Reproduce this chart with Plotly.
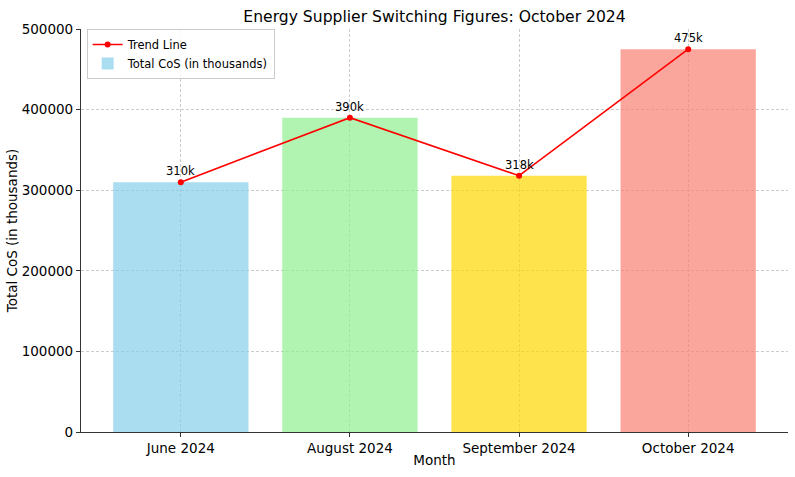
import plotly.graph_objects as go

months = ["June 2024", "August 2024", "September 2024", "October 2024"]
values = [310000, 390000, 318000, 475000]
labels = ["310k", "390k", "318k", "475k"]
bar_colors = ["rgba(135,206,235,0.7)", "rgba(144,238,144,0.7)",
              "rgba(255,215,0,0.7)", "rgba(250,128,114,0.7)"]
y_ticks = [0, 100000, 200000, 300000, 400000, 500000]

FONT = "DejaVu Sans"
x_idx = list(range(len(months)))

fig = go.Figure()
fig.add_trace(go.Bar(
    x=x_idx, y=values, width=0.8, marker=dict(color=bar_colors, line=dict(width=0)),
    name="Total CoS (in thousands)", legendrank=2,
))
fig.add_trace(go.Scatter(
    x=x_idx, y=values, mode="lines+markers", name="Trend Line",
    line=dict(color="red", width=1.6), marker=dict(color="red", size=6),
    legendrank=1,
))
for xi, v, t in zip(x_idx, values, labels):
    fig.add_annotation(x=xi, y=v, text=t, showarrow=False, yshift=11,
                       font=dict(family=FONT, size=11.5, color="black"))

axis_common = dict(
    showgrid=True, gridcolor="#cccccc", griddash="3px,2px", gridwidth=0.8,
    ticks="outside", ticklen=4, tickcolor="#333", showline=True, linecolor="#333",
    linewidth=1.2, zeroline=False, automargin=False,
)
fig.update_xaxes(range=[-0.59, 3.59], tickmode="array", tickvals=x_idx, ticktext=months,
                 tickfont=dict(family=FONT, size=13.5, color="black"),
                 title=dict(text="Month", font=dict(family=FONT, size=13.5, color="black"), standoff=0),
                 **axis_common)
fig.update_yaxes(range=[0, 500000], tickmode="array", tickvals=y_ticks,
                 ticktext=[str(v) for v in y_ticks],
                 tickfont=dict(family=FONT, size=13.5, color="black"),
                 title=dict(text="Total CoS (in thousands)", font=dict(family=FONT, size=13.5, color="black"), standoff=0),
                 **axis_common)

fig.update_layout(
    width=795, height=477,
    margin=dict(l=81, r=7, t=29, b=45),
    paper_bgcolor="white", plot_bgcolor="white",
    title=dict(text="Energy Supplier Switching Figures: October 2024",
               font=dict(family=FONT, size=15.6, color="black"),
               x=(81 + 788) / 2 / 795, xanchor="center", y=0.966, yanchor="middle"),
    legend=dict(x=0.008, y=1.0, xanchor="left", yanchor="top",
                bgcolor="rgba(255,255,255,0.8)", bordercolor="#cccccc", borderwidth=1,
                font=dict(family=FONT, size=11.5, color="black"), tracegroupgap=0,
                itemwidth=30),
    showlegend=True, bargap=0.2,
)

fig.write_html("out.html", config={"displayModeBar": False},
               post_script="document.body.style.margin='0';document.body.style.overflow='hidden';")
